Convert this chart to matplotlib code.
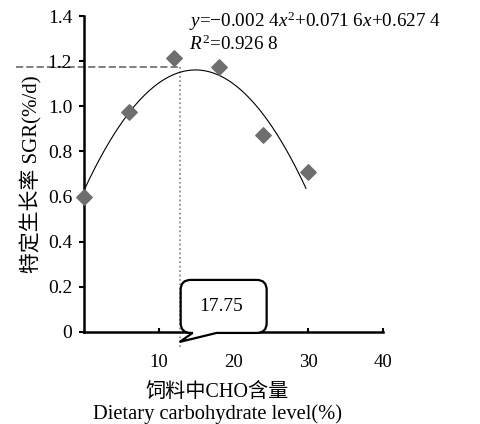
import matplotlib
matplotlib.use("Agg")
import matplotlib.pyplot as plt
import numpy as np
from matplotlib.path import Path
from matplotlib.patches import PathPatch
from matplotlib.transforms import ScaledTranslation

plt.rcParams['font.family'] = ['Liberation Serif', 'Noto Sans CJK SC']
plt.rcParams['mathtext.fontset'] = 'custom'
plt.rcParams['mathtext.rm'] = 'Liberation Serif'
plt.rcParams['mathtext.it'] = 'Liberation Serif:italic'

# 数据
cho = np.array([0, 6, 12, 18, 24, 30])
sgr = np.array([0.60, 0.973, 1.213, 1.173, 0.871, 0.711])
coef = [-0.0024, 0.0716, 0.6274]      # 二次拟合系数
x_fit_end = 29.7
opt_x, opt_y = 12.8, 1.175            # 参考线位置
callout_text = '17.75'

fig = plt.figure(figsize=(4.81, 4.24), dpi=100)
ax = fig.add_axes([0.1746, 0.217, 0.6216, 0.745])

xf = np.linspace(0, x_fit_end, 200)
ax.plot(xf, np.polyval(coef, xf), color='black', lw=0.8, zorder=2)
ax.scatter(cho, sgr, marker='D', s=62, color='#6e6e6e', zorder=3, clip_on=False)

# 参考线
ax.plot([-9.1, opt_x], [opt_y, opt_y], color='#808080', ls='--', lw=1.4, clip_on=False, zorder=1)
ax.plot([opt_x, opt_x], [-0.068, opt_y], color='#808080', ls=':', lw=1.2, clip_on=False, zorder=1)

# 气泡标注（单位：英寸，相对箭头尖端）
l, r, b, t, rad = 0.01, 0.87, 0.09, 0.62, 0.1
verts = [(0.13, b), (0.0, 0.0), (0.37, b), (r - rad, b), (r, b), (r, b + rad),
         (r, t - rad), (r, t), (r - rad, t), (l + rad, t), (l, t), (l, t - rad),
         (l, b + rad), (l, b), (l + rad, b), (0.13, b)]
codes = [Path.MOVETO, Path.LINETO, Path.LINETO, Path.LINETO, Path.CURVE3, Path.CURVE3,
         Path.LINETO, Path.CURVE3, Path.CURVE3, Path.LINETO, Path.CURVE3, Path.CURVE3,
         Path.LINETO, Path.CURVE3, Path.CURVE3, Path.CLOSEPOLY]
tip = fig.dpi_scale_trans + ScaledTranslation(opt_x, -0.044, ax.transData)
ax.add_patch(PathPatch(Path(verts, codes), transform=tip, fc='white', ec='black',
                       lw=1.6, clip_on=False, zorder=5))
ax.text((l + r) / 2 - 0.03, (b + t) / 2, callout_text, transform=tip, ha='center',
        va='center', fontsize=14, zorder=6, clip_on=False)

# 公式
ax.text(14.1, 1.378, r'$y$=−0.002 4$x^2$+0.071 6$x$+0.627 4', fontsize=13.8,
        va='center', clip_on=False)
ax.text(14.1, 1.276, r'$R^2$=0.926 8', fontsize=13.8, va='center', clip_on=False)

ax.set_xlim(0, 40)
ax.set_ylim(0, 1.4)
ax.set_xticks([10, 20, 30, 40])
ax.set_yticks(np.arange(0, 1.41, 0.2))
ax.set_yticklabels(['0', '0.2', '0.4', '0.6', '0.8', '1.0', '1.2', '1.4'])
ax.tick_params(axis='x', direction='in', length=3, width=1.5, pad=16, labelsize=13.5)
ax.tick_params(axis='y', direction='out', length=3.5, width=1.5, pad=5, labelsize=14)
for s in ['top', 'right']:
    ax.spines[s].set_visible(False)
for s in ['left', 'bottom']:
    ax.spines[s].set_linewidth(1.8)

ax.set_ylabel('特定生长率 SGR(%/d)', fontsize=15, labelpad=4)
fig.text(0.452, 0.075, '饲料中CHO含量', ha='center', va='center', fontsize=14.5)
fig.text(0.453, 0.024, 'Dietary carbohydrate level(%)', ha='center', va='center', fontsize=14.8)

fig.savefig('out.png', dpi=100)
